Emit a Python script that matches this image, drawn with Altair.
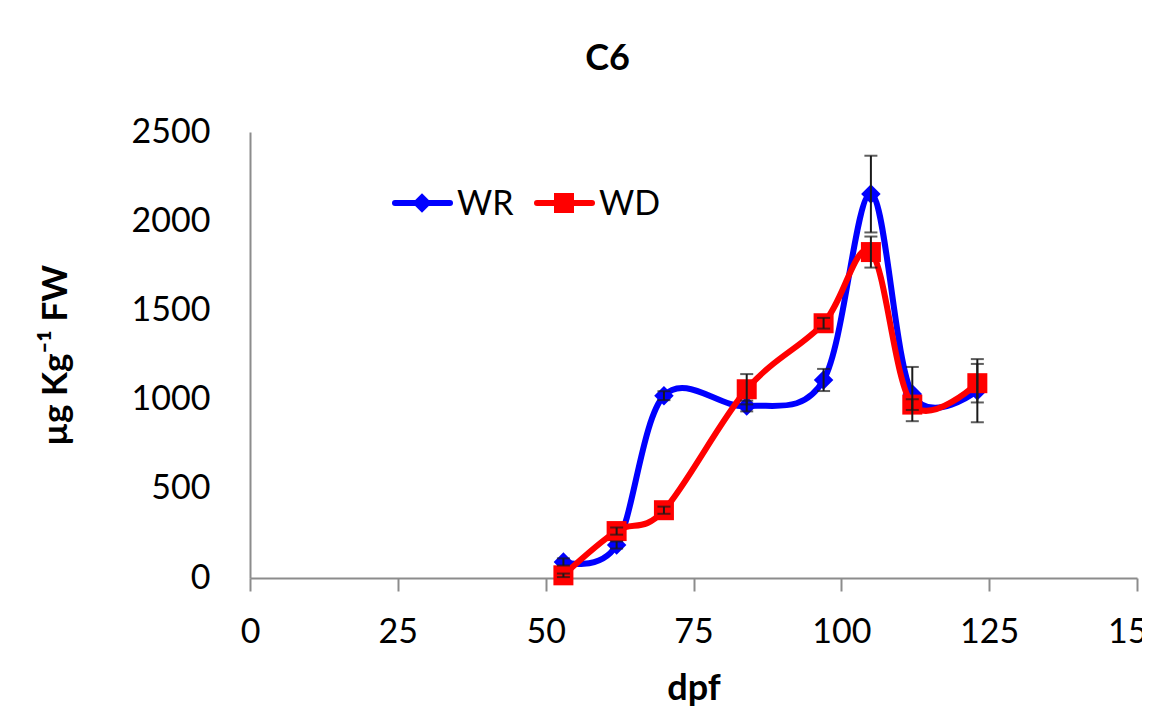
import altair as alt
import pandas as pd

# ---- data ----
dpf = [53, 62, 70, 84, 97, 105, 112, 123]
wr_values = [90, 185, 1022, 964, 1110, 2152, 1031, 1050]
wr_err = [20, 20, 25, 30, 62, 215, 152, 177]
wd_values = [15, 263, 380, 1058, 1428, 1827, 972, 1092]
wd_err = [10, 20, 20, 85, 30, 87, 30, 108]
series_names = ["WR", "WD"]
series_colors = ["#0000FF", "#FF0000"]
series_shapes = ["diamond", "square"]
x_ticks = [0, 25, 50, 75, 100, 125, 150]
y_ticks = [0, 500, 1000, 1500, 2000, 2500]

FONT = "Lato"

wr = pd.DataFrame({"dpf": dpf, "value": wr_values, "err": wr_err})
wd = pd.DataFrame({"dpf": dpf, "value": wd_values, "err": wd_err})
for d in (wr, wd):
    d["lo"] = d["value"] - d["err"]
    d["hi"] = d["value"] + d["err"]

xscale = alt.Scale(domain=[0, 150], nice=False, zero=False)
yscale = alt.Scale(domain=[0, 2500], nice=False)

xaxis = alt.Axis(values=x_ticks, title="dpf", grid=False, format="d",
                 domainColor="#8c8c8c", domainWidth=2, tickColor="#8c8c8c",
                 tickWidth=2, tickSize=13, labelFontSize=34, labelFont=FONT,
                 labelColor="black", labelPadding=24, titleFont=FONT,
                 titleFontSize=36, titleFontWeight="bold", titleColor="black",
                 titlePadding=22, labelFlush=False, labelOverlap=False)
yaxis = alt.Axis(values=y_ticks, title="µg Kg⁻¹ FW", format="d",
                 grid=False, domainColor="#8c8c8c", domainWidth=2, ticks=False,
                 labelFontSize=34, labelFont=FONT, labelColor="black",
                 labelPadding=40, titleFont=FONT, titleFontSize=35,
                 titleFontWeight="bold", titleColor="black", titlePadding=58)


def X():
    return alt.X("dpf:Q", scale=xscale, axis=xaxis, title="dpf")


def Y(field):
    return alt.Y(f"{field}:Q", scale=yscale, axis=yaxis, title="µg Kg⁻¹ FW")


def series_layers(df, color, shape, size):
    base = alt.Chart(df)
    line = base.mark_line(color=color, strokeWidth=6, interpolate="cardinal",
                          tension=0).encode(x=X(), y=Y("value"))
    pts = base.mark_point(shape=shape, filled=True, color=color, size=size,
                          opacity=1).encode(x=X(), y=Y("value"))
    return [line, pts]


def error_layers(df):
    base = alt.Chart(df)
    rule = base.mark_rule(color="#1a1a1a", strokeWidth=2).encode(
        x=X(), y=Y("lo"), y2="hi:Q")
    cap_hi = base.mark_tick(color="#1a1a1a", orient="horizontal", size=13,
                            thickness=2).encode(x=X(), y=Y("hi"))
    cap_lo = base.mark_tick(color="#1a1a1a", orient="horizontal", size=13,
                            thickness=2).encode(x=X(), y=Y("lo"))
    return [rule, cap_hi, cap_lo]


def legend_item(name, color, shape, size, x0):
    d = pd.DataFrame({"name": [name]})
    b = alt.Chart(d)
    r = b.mark_rule(color=color, strokeWidth=6, strokeCap="round").encode(
        x=alt.value(x0), x2=alt.value(x0 + 55), y=alt.value(71))
    p = b.mark_point(shape=shape, filled=True, color=color, size=size,
                     opacity=1).encode(x=alt.value(x0 + 27), y=alt.value(71))
    t = b.mark_text(align="left", baseline="middle", font=FONT, fontSize=34,
                    color="black").encode(x=alt.value(x0 + 62), y=alt.value(73),
                                          text="name:N")
    return [r, p, t]


layers = []
layers += series_layers(wr, series_colors[0], series_shapes[0], 380)
layers += series_layers(wd, series_colors[1], series_shapes[1], 400)
layers += error_layers(wr)
layers += error_layers(wd)
layers += legend_item(series_names[0], series_colors[0], series_shapes[0], 380, 145)
layers += legend_item(series_names[1], series_colors[1], series_shapes[1], 400, 287)

chart = alt.layer(*layers).properties(
    width=887, height=446,
    title=alt.TitleParams("C6", font=FONT, fontSize=36, fontWeight="bold",
                          color="black", anchor="middle", dx=-86, offset=37),
    autosize=alt.AutoSizeParams(type="none"),
    padding={"left": 242, "top": 124, "right": 5, "bottom": 130},
    background="white",
).configure_view(stroke=None)

chart.save("out.html", embed_options={"renderer": "svg", "actions": False})
